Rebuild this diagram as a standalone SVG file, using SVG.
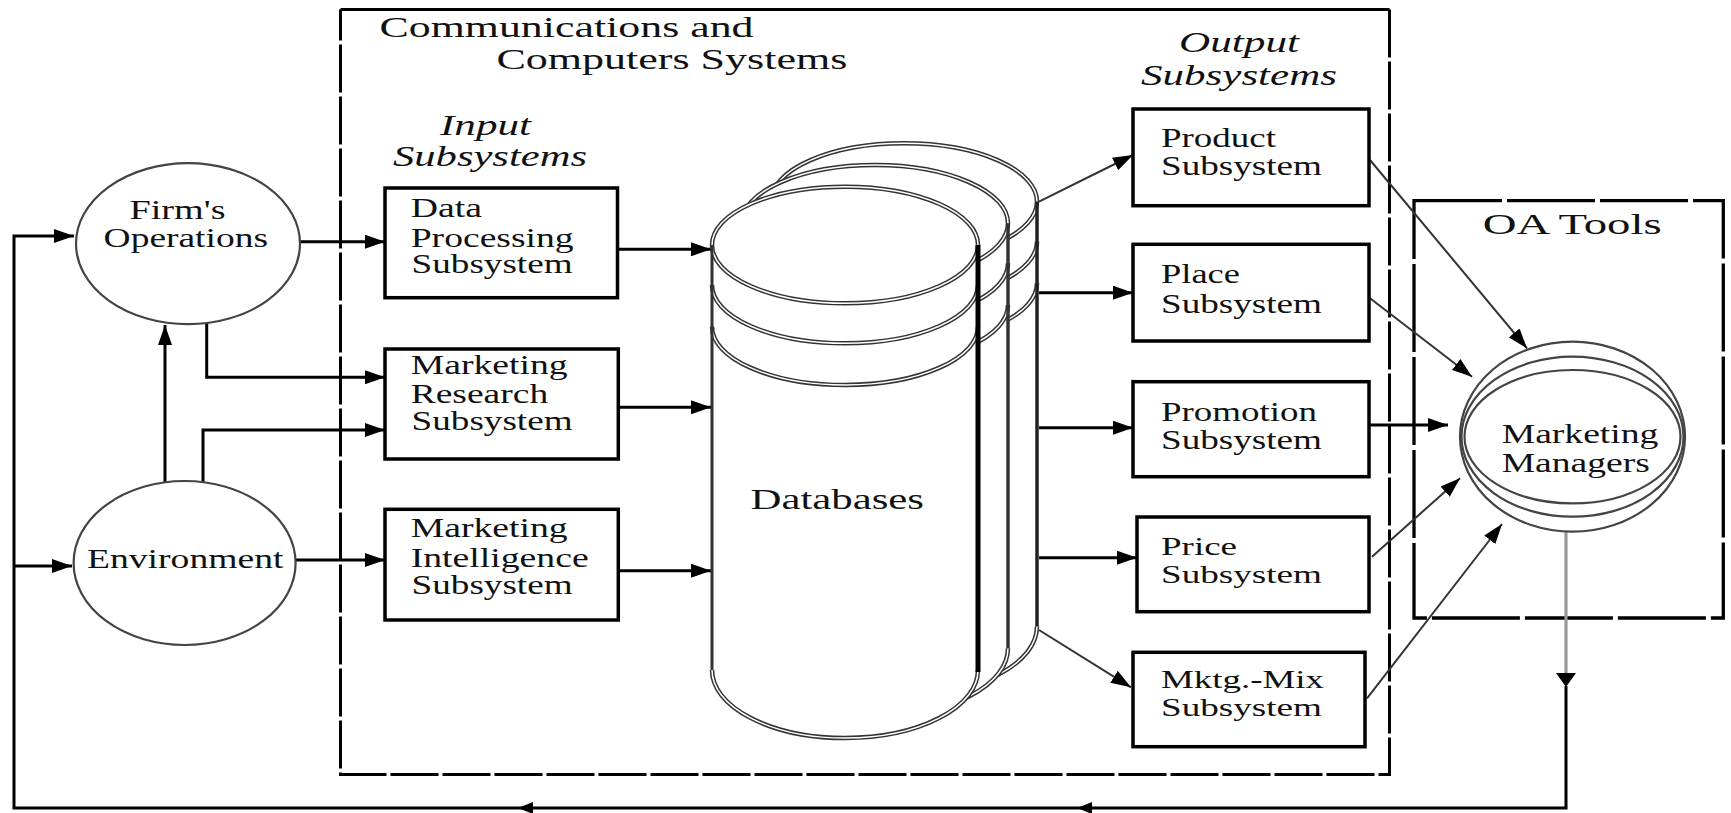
<svg xmlns="http://www.w3.org/2000/svg" xmlns:xlink="http://www.w3.org/1999/xlink" width="1731" height="813" viewBox="0 0 1731 813">
<style>
.t { font-family: "Liberation Serif", "Times New Roman", serif; fill: #111; }
.i { font-style: italic; }
.box { fill: #fff; stroke: #000; stroke-width: 3.5; }
.c { fill: none; stroke: #000; stroke-width: 3; }
.thin { fill: none; stroke: #333; stroke-width: 2; }
.ell { fill: none; stroke: #444; stroke-width: 2.2; }
.dbl { fill: none; stroke: #333; stroke-width: 4.5; }
.dblw { fill: none; stroke: #fff; stroke-width: 1.5; }
.ah { fill: #000; }
</style>
<defs>
<marker id="ah" markerUnits="userSpaceOnUse" markerWidth="20" markerHeight="14" refX="20" refY="7" orient="auto">
<path d="M0,0 L20,7 L0,14 Z" fill="#000"/>
</marker>
<g id="cylShape">
<path d="M712,245 A133,58.3 0 0 1 978,245 L978,670 A133,68 0 0 1 712,670 Z" fill="#fff" stroke="none"/>
<g class="dbl">
<ellipse cx="845" cy="245" rx="133" ry="58.3"/>
<path d="M712,285 A133,58.3 0 0 0 978,285"/>
<path d="M712,326.7 A133,58.3 0 0 0 978,326.7"/>
<path d="M712,670 A133,68 0 0 0 978,670"/>
</g>
<g class="dblw">
<ellipse cx="845" cy="245" rx="133" ry="58.3"/>
<path d="M712,285 A133,58.3 0 0 0 978,285"/>
<path d="M712,326.7 A133,58.3 0 0 0 978,326.7"/>
<path d="M712,670 A133,68 0 0 0 978,670"/>
</g>
<path d="M712,245 V670" stroke="#333" stroke-width="3" fill="none"/>
</g>
</defs>
<rect x="0" y="0" width="1731" height="813" fill="#fff"/>

<g id="comm-systems">
<path d="M340.5,9.5 H1389.5" fill="none" stroke="#000" stroke-width="3"/>
<path d="M1389.5,9.5 V774.5 H340.5 V9.5" fill="none" stroke="#000" stroke-width="3" stroke-dasharray="48 4"/>
<text class="t" x="379.5" y="37" font-size="30" textLength="374" lengthAdjust="spacingAndGlyphs">Communications and</text>
<text class="t" x="496.4" y="69" font-size="30" textLength="351" lengthAdjust="spacingAndGlyphs">Computers Systems</text>
</g>

<g id="input-label">
<text class="t i" x="440" y="135" font-size="29" textLength="91" lengthAdjust="spacingAndGlyphs">Input</text>
<text class="t i" x="393" y="165.7" font-size="29" textLength="194" lengthAdjust="spacingAndGlyphs">Subsystems</text>
</g>

<g id="output-label">
<text class="t i" x="1179" y="51.7" font-size="29" textLength="120" lengthAdjust="spacingAndGlyphs">Output</text>
<text class="t i" x="1141" y="85" font-size="29" textLength="196" lengthAdjust="spacingAndGlyphs">Subsystems</text>
</g>

<g id="oa-tools">
<rect x="1414" y="200.7" width="309.3" height="417.3" fill="none" stroke="#000" stroke-width="3.3" stroke-dasharray="88 5"/>
<text class="t" x="1482.7" y="234" font-size="30" textLength="179" lengthAdjust="spacingAndGlyphs">OA Tools</text>
</g>

<g id="connectors">
<path class="c" d="M1566,686 V808 H14 V236 H74" marker-end="url(#ah)"/>
<path class="c" d="M14,566 H72" marker-end="url(#ah)"/>
<path d="M1566,532 V673" fill="none" stroke="#999" stroke-width="3.2"/>
<polygon class="ah" points="1566,687 1556,673 1576,673"/>
<polygon class="ah" points="518,808 533,802 533,814"/>
<polygon class="ah" points="1077,808 1092,802 1092,814"/>
<path class="c" d="M300,241.7 H385" marker-end="url(#ah)"/>
<path class="c" d="M206.7,323 V377.3 H385" marker-end="url(#ah)"/>
<path class="c" d="M165,482.5 V325" marker-end="url(#ah)"/>
<path class="c" d="M203,482.5 V430 H385" marker-end="url(#ah)"/>
<path class="c" d="M296,560 H385" marker-end="url(#ah)"/>
<path class="c" d="M617.5,249.3 H711" marker-end="url(#ah)"/>
<path class="c" d="M618.3,407.3 H711" marker-end="url(#ah)"/>
<path class="c" d="M618.3,570.7 H711" marker-end="url(#ah)"/>
<path class="thin" d="M1039,201.7 L1133,155" marker-end="url(#ah)"/>
<path class="c" d="M1039,292.7 H1133" marker-end="url(#ah)"/>
<path class="c" d="M1039,427.7 H1133" marker-end="url(#ah)"/>
<path class="c" d="M1039,557.7 H1137" marker-end="url(#ah)"/>
<path class="thin" d="M1039,630 L1131,687.3" marker-end="url(#ah)"/>
<path class="thin" d="M1370,160 L1527,348.3" marker-end="url(#ah)"/>
<path class="thin" d="M1370,298.3 L1472,376.7" marker-end="url(#ah)"/>
<path class="c" d="M1369,425 H1448" marker-end="url(#ah)"/>
<path class="thin" d="M1372,556.7 L1460,478.3" marker-end="url(#ah)"/>
<path class="thin" d="M1367,698.3 L1502,524" marker-end="url(#ah)"/>
</g>

<g id="firms-operations">
<ellipse class="ell" cx="188" cy="243.7" rx="112" ry="80.5"/>
<text class="t" x="129.5" y="219" font-size="27" textLength="96" lengthAdjust="spacingAndGlyphs">Firm's</text>
<text class="t" x="103.6" y="246.7" font-size="27" textLength="164.4" lengthAdjust="spacingAndGlyphs">Operations</text>
</g>

<g id="environment">
<ellipse class="ell" cx="184.6" cy="563" rx="111" ry="82"/>
<text class="t" x="87" y="568.3" font-size="27" textLength="196.5" lengthAdjust="spacingAndGlyphs">Environment</text>
</g>

<g id="data-processing">
<rect class="box" x="385" y="188" width="232.5" height="109.7"/>
<text class="t" x="410.7" y="217.3" font-size="27" textLength="71.3" lengthAdjust="spacingAndGlyphs">Data</text>
<text class="t" x="410.7" y="246.7" font-size="27" textLength="163" lengthAdjust="spacingAndGlyphs">Processing</text>
<text class="t" x="411.6" y="273.3" font-size="27" textLength="161" lengthAdjust="spacingAndGlyphs">Subsystem</text>
</g>

<g id="marketing-research">
<rect class="box" x="385" y="349" width="233.3" height="110"/>
<text class="t" x="410.7" y="374" font-size="27" textLength="157" lengthAdjust="spacingAndGlyphs">Marketing</text>
<text class="t" x="410.7" y="402.7" font-size="27" textLength="137.5" lengthAdjust="spacingAndGlyphs">Research</text>
<text class="t" x="411.6" y="430" font-size="27" textLength="161" lengthAdjust="spacingAndGlyphs">Subsystem</text>
</g>

<g id="marketing-intelligence">
<rect class="box" x="385" y="509.3" width="233.3" height="110.7"/>
<text class="t" x="410.7" y="537.3" font-size="27" textLength="157" lengthAdjust="spacingAndGlyphs">Marketing</text>
<text class="t" x="410.7" y="566.7" font-size="27" textLength="178" lengthAdjust="spacingAndGlyphs">Intelligence</text>
<text class="t" x="411.6" y="594" font-size="27" textLength="161" lengthAdjust="spacingAndGlyphs">Subsystem</text>
</g>

<g id="databases">
<use xlink:href="#cylShape" href="#cylShape" transform="translate(59,-43.4)"/>
<path d="M1037,201.6 V626.6" stroke="#222" stroke-width="3.5" fill="none"/>
<use xlink:href="#cylShape" href="#cylShape" transform="translate(30,-21.7)"/>
<path d="M1008,223.3 V648.3" stroke="#333" stroke-width="3.5" fill="none"/>
<use xlink:href="#cylShape" href="#cylShape"/>
<path d="M978,245 V672" stroke="#000" stroke-width="5" fill="none"/>
<text class="t" x="750.5" y="509" font-size="30" textLength="173.5" lengthAdjust="spacingAndGlyphs">Databases</text>
</g>

<g id="product">
<rect class="box" x="1133" y="109" width="236" height="96.7"/>
<text class="t" x="1161" y="146.7" font-size="27" textLength="115" lengthAdjust="spacingAndGlyphs">Product</text>
<text class="t" x="1161" y="175" font-size="27" textLength="161" lengthAdjust="spacingAndGlyphs">Subsystem</text>
</g>

<g id="place">
<rect class="box" x="1133" y="244.3" width="236" height="96.7"/>
<text class="t" x="1161" y="283.3" font-size="27" textLength="79" lengthAdjust="spacingAndGlyphs">Place</text>
<text class="t" x="1161" y="313.3" font-size="27" textLength="161" lengthAdjust="spacingAndGlyphs">Subsystem</text>
</g>

<g id="promotion">
<rect class="box" x="1133" y="381.7" width="236" height="95"/>
<text class="t" x="1161" y="420.7" font-size="27" textLength="156" lengthAdjust="spacingAndGlyphs">Promotion</text>
<text class="t" x="1161" y="449" font-size="27" textLength="161" lengthAdjust="spacingAndGlyphs">Subsystem</text>
</g>

<g id="price">
<rect class="box" x="1137" y="517" width="232" height="94.7"/>
<text class="t" x="1161" y="554.5" font-size="26" textLength="76" lengthAdjust="spacingAndGlyphs">Price</text>
<text class="t" x="1161" y="582.5" font-size="26" textLength="161" lengthAdjust="spacingAndGlyphs">Subsystem</text>
</g>

<g id="mktg-mix">
<rect class="box" x="1133" y="652.3" width="232" height="94.4"/>
<text class="t" x="1161" y="687.5" font-size="26" textLength="163" lengthAdjust="spacingAndGlyphs">Mktg.-Mix</text>
<text class="t" x="1161" y="715.5" font-size="26" textLength="161" lengthAdjust="spacingAndGlyphs">Subsystem</text>
</g>

<g id="marketing-managers">
<ellipse class="ell" cx="1572.5" cy="436.7" rx="112.5" ry="95"/>
<ellipse class="ell" cx="1572.5" cy="436.7" rx="111" ry="80"/>
<ellipse class="ell" cx="1572.5" cy="436.7" rx="108" ry="66.7"/>
<text class="t" x="1501.7" y="443.3" font-size="27" textLength="156.7" lengthAdjust="spacingAndGlyphs">Marketing</text>
<text class="t" x="1501.7" y="471.7" font-size="27" textLength="148.3" lengthAdjust="spacingAndGlyphs">Managers</text>
</g>
</svg>
